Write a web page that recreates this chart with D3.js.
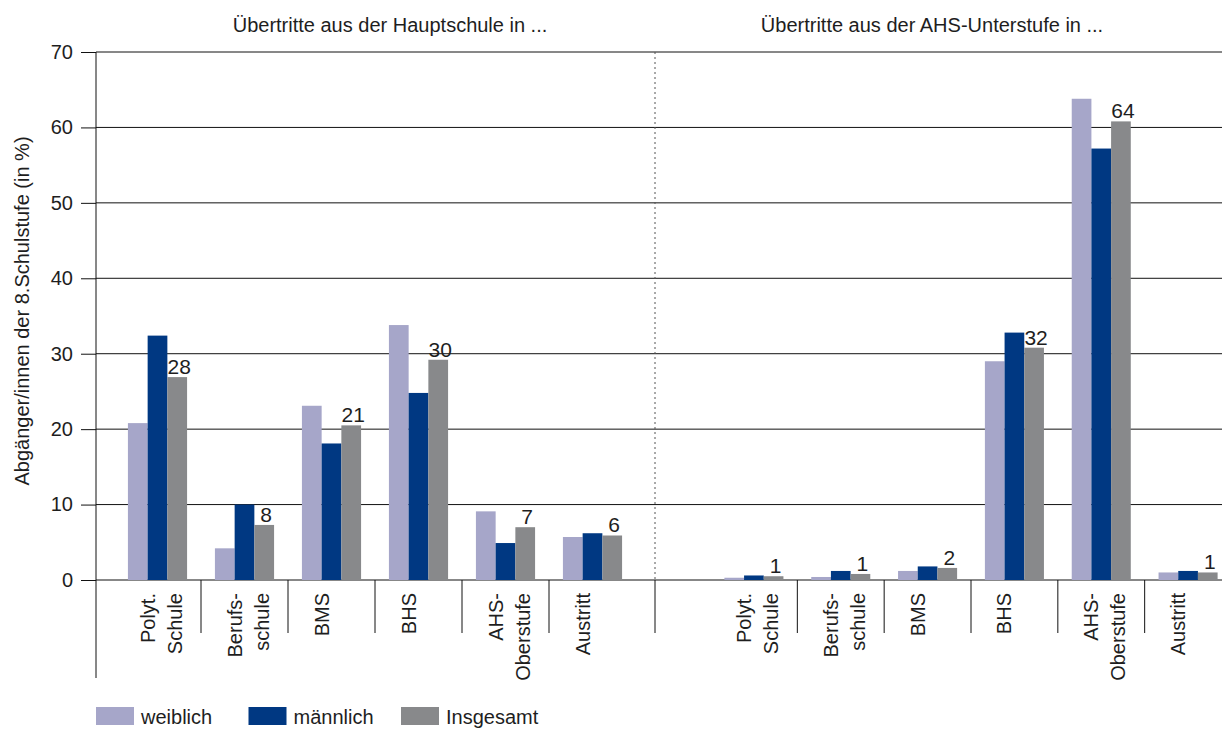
<!DOCTYPE html>
<meta charset="utf-8">
<style>
body { margin: 0; background: #fff; }
svg text { font-family: "Liberation Sans", Arial, sans-serif; fill: #1e1e1e; }
</style>
<svg id="chart" width="1222" height="729"></svg>
<script src="https://d3js.org/d3.v7.min.js"></script>
<script>

// categories (label lines) and keys
var catKeys = ["Polyt. Schule", "Berufsschule", "BMS", "BHS", "AHS-Oberstufe", "Austritt"];
var catLines = [["Polyt.", "Schule"], ["Berufs-", "schule"], ["BMS"], ["BHS"], ["AHS-", "Oberstufe"], ["Austritt"]];
var seriesNames = ["weiblich", "männlich", "Insgesamt"];
var colors = ["#a6a6c9", "#003882", "#88898b"];

// Übertritte aus der Hauptschule
var hsWeiblich = [20.8, 4.2, 23.1, 33.8, 9.1, 5.7];
var hsMaennlich = [32.4, 10.0, 18.1, 24.8, 4.9, 6.2];
var hsGesamt = [26.9, 7.3, 20.5, 29.2, 7.0, 5.9];
var hsLabels = ["28", "8", "21", "30", "7", "6"];

// Übertritte aus der AHS-Unterstufe
var ahsWeiblich = [0.3, 0.4, 1.2, 29.0, 63.8, 1.0];
var ahsMaennlich = [0.6, 1.2, 1.8, 32.8, 57.2, 1.2];
var ahsGesamt = [0.5, 0.8, 1.6, 30.8, 60.8, 1.0];
var ahsLabels = ["1", "1", "2", "32", "64", "1"];

var yTicks = [0, 10, 20, 30, 40, 50, 60, 70];
var panelTitles = ["Übertritte aus der Hauptschule in ...", "Übertritte aus der AHS-Unterstufe in ..."];
var yTitle = "Abgänger/innen der 8.Schulstufe (in %)";

var svg = d3.select("#chart");
var W = 1222;
var axisX = 96, baseY = 580, topY = 52, sepBottom = 633, axisBottom = 678;
var dividerX = 655;

var y = d3.scaleLinear().domain([0, 70]).range([baseY, topY]);

var panels = [
  {title: panelTitles[0], titleX: 390, range: [114, 636],
   values: [hsWeiblich, hsMaennlich, hsGesamt], labels: hsLabels},
  {title: panelTitles[1], titleX: 932, range: [710.5, 1231.5],
   values: [ahsWeiblich, ahsMaennlich, ahsGesamt], labels: ahsLabels}
];

// gridlines
svg.append("g").selectAll("line")
  .data(yTicks)
  .enter().append("line")
    .attr("x1", axisX).attr("x2", W)
    .attr("y1", function(d) { return y(d); })
    .attr("y2", function(d) { return y(d); })
    .attr("stroke", "#111").attr("stroke-width", 1);

// dotted divider
svg.append("line")
  .attr("x1", dividerX).attr("x2", dividerX)
  .attr("y1", topY).attr("y2", baseY)
  .attr("stroke", "#555").attr("stroke-dasharray", "2,3");
svg.append("line")
  .attr("x1", dividerX).attr("x2", dividerX)
  .attr("y1", baseY).attr("y2", sepBottom)
  .attr("stroke", "#111");

// y axis
var yAxis = svg.append("g")
  .attr("transform", "translate(" + axisX + ",0)")
  .call(d3.axisLeft(y).tickValues(yTicks).tickSize(15).tickPadding(8));
yAxis.select(".domain").remove();
yAxis.selectAll(".tick line").attr("stroke", "#111");
yAxis.selectAll(".tick text")
  .attr("font-size", 20)
  .attr("font-family", "Liberation Sans, Arial, sans-serif")
  .attr("fill", "#1e1e1e");
svg.append("line")
  .attr("x1", axisX).attr("x2", axisX)
  .attr("y1", topY).attr("y2", axisBottom)
  .attr("stroke", "#111");

svg.append("text")
  .attr("transform", "translate(29,311) rotate(-90)")
  .attr("text-anchor", "middle")
  .attr("font-size", 20)
  .text(yTitle);

panels.forEach(function(p) {
  var x0 = d3.scaleBand().domain(catKeys).range(p.range).paddingInner(0.32).paddingOuter(0.16);
  var x1 = d3.scaleBand().domain(seriesNames).range([0, x0.bandwidth()]);

  svg.append("text")
    .attr("x", p.titleX).attr("y", 32)
    .attr("text-anchor", "middle")
    .attr("font-size", 20)
    .text(p.title);

  var groups = svg.append("g").selectAll("g")
    .data(catKeys)
    .enter().append("g")
      .attr("transform", function(d) { return "translate(" + x0(d) + ",0)"; });

  groups.selectAll("rect")
    .data(function(d, i) {
      return seriesNames.map(function(s, j) { return {key: s, value: p.values[j][i], color: colors[j]}; });
    })
    .enter().append("rect")
      .attr("x", function(d) { return x1(d.key); })
      .attr("y", function(d) { return y(d.value); })
      .attr("width", x1.bandwidth())
      .attr("height", function(d) { return baseY - y(d.value); })
      .attr("fill", function(d) { return d.color; });

  // value labels over Insgesamt bars
  groups.append("text")
    .attr("x", x1("Insgesamt") + x1.bandwidth() / 2 + 2)
    .attr("y", function(d, i) { return y(p.values[2][i]) - 3; })
    .attr("text-anchor", "middle")
    .attr("font-size", 21)
    .text(function(d, i) { return p.labels[i]; });

  // category separators
  svg.append("g").selectAll("line")
    .data(catKeys.slice(1))
    .enter().append("line")
      .attr("x1", function(d, i) { return (x0(catKeys[i]) + x0.bandwidth() + x0(d)) / 2; })
      .attr("x2", function(d, i) { return (x0(catKeys[i]) + x0.bandwidth() + x0(d)) / 2; })
      .attr("y1", baseY).attr("y2", sepBottom)
      .attr("stroke", "#111");

  // category labels
  var lab = svg.append("g").selectAll("text")
    .data(catKeys)
    .enter().append("text")
      .attr("transform", function(d) { return "translate(" + (x0(d) + x0.bandwidth() / 2 - 3) + ",593) rotate(-90)"; })
      .attr("text-anchor", "end")
      .attr("font-size", 20);
  lab.selectAll("tspan")
    .data(function(d, i) { return catLines[i]; })
    .enter().append("tspan")
      .attr("x", 0)
      .attr("dy", function(d, i) { return i === 0 ? 0 : 27; })
      .text(function(d) { return d; });
});

// legend
var legend = svg.append("g").selectAll("g")
  .data(seriesNames)
  .enter().append("g")
    .attr("transform", function(d, i) { return "translate(" + (96 + i * 152.5) + ",707)"; });
legend.append("rect")
  .attr("width", 38).attr("height", 18)
  .attr("fill", function(d, i) { return colors[i]; });
legend.append("text")
  .attr("x", 45).attr("y", 17)
  .attr("font-size", 20)
  .text(function(d) { return d; });

</script>
